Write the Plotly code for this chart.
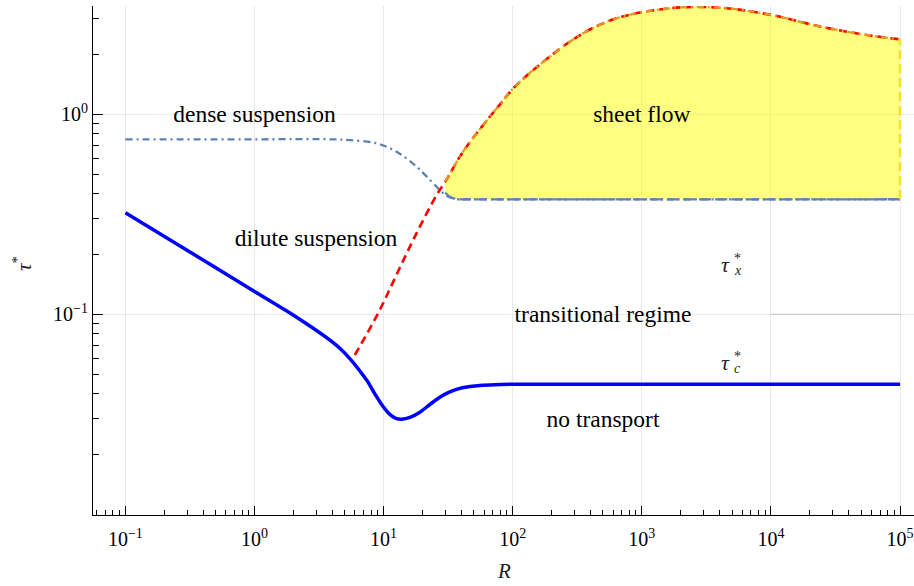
import numpy as np
import plotly.graph_objects as go

# ---- data ----
# critical Shields curve tau_c*
tc_R = [0.1, 0.316, 1.0, 2.24, 4.58, 7.38, 8.55, 9.93, 11.17, 12.43, 13.8, 15.96, 19.08, 22.8,
        27.26, 32.58, 38.95, 46.55, 55.64, 72.7, 113.6, 1e5]
tc_tau = [0.322, 0.205, 0.130, 0.0944, 0.0676, 0.0469, 0.0400, 0.0345, 0.0316, 0.0302, 0.0299,
          0.0305, 0.0324, 0.0354, 0.0385, 0.0409, 0.0426, 0.0435, 0.0441, 0.0445, 0.0447, 0.0447]

# dense suspension limit
dense_R = [0.1, 1.0, 3.85, 5.5, 8.83, 12.6, 18.0, 22.9, 27.3, 30.8, 36.8, 50.0, 1e5]
dense_tau = [0.75, 0.75, 0.75, 0.742, 0.716, 0.650, 0.547, 0.469, 0.418, 0.390, 0.377, 0.376, 0.376]

# suspension / sheet-flow upper curve (red dashed)
red_R = [5.98, 9.12, 12.6, 17.8, 25.7, 30.0, 41.4, 63.1, 79.8, 101.0, 178.0, 339.0, 603.0,
         1000.0, 2100.0, 4560.0, 1e4, 24000.0, 55500.0, 1e5]
red_tau = [0.0626, 0.102, 0.158, 0.251, 0.394, 0.460, 0.653, 0.933, 1.122, 1.349, 1.862, 2.51,
           2.985, 3.236, 3.43, 3.39, 3.14, 2.75, 2.49, 2.37]

# lower boundary of the sheet-flow region
sheet_low_R = [30.0, 33.0, 37.0, 45.0, 1e5]
sheet_low_tau = [0.405, 0.385, 0.377, 0.376, 0.376]
sheet_start_R = 30.0

# darker grid segment
seg_R = [1e4, 1e5]
seg_tau = [0.1, 0.1]

# region labels
labels = ["dense suspension", "dilute suspension", "sheet flow", "transitional regime", "no transport"]
label_R = [1.0, 3.0, 1000.0, 500.0, 500.0]
label_tau = [0.98, 0.236, 0.98, 0.098, 0.0292]

# tau labels
tau_label_sub = ["x", "c"]
tau_label_R = [5000.0, 5000.0]
tau_label_tau = [0.178, 0.0575]

# ticks
x_major = [1e-1, 1e0, 1e1, 1e2, 1e3, 1e4, 1e5]
x_major_text = ["10<sup>\u22121</sup>", "10<sup>0</sup>", "10<sup>1</sup>", "10<sup>2</sup>",
                "10<sup>3</sup>", "10<sup>4</sup>", "10<sup>5</sup>"]
y_major = [1e-1, 1e0]
y_major_text = ["10<sup>\u22121</sup>", "10<sup>0</sup>"]

x_minor = [m * 10.0 ** e for e in range(-2, 6) for m in range(2, 10)]
y_minor = [m * 10.0 ** e for e in range(-3, 1) for m in range(2, 10)]

X_RANGE = [-1.251, 5.108]
Y_RANGE = [-2.0035, 0.5415]

SERIF = "'Liberation Serif', 'Times New Roman', Times, 'DejaVu Serif', serif"
C1 = "#5e81b5"
C2 = "#e19c24"

red_R_a = np.array(red_R)
red_tau_a = np.array(red_tau)
mask = red_R_a >= sheet_start_R
up_R = red_R_a[mask]
up_tau = red_tau_a[mask]

fig = go.Figure()

fig.add_trace(go.Scatter(x=seg_R, y=seg_tau, mode="lines",
                         line=dict(color="#c4c4c4", width=1), hoverinfo="skip"))

# sheet flow fill: lower boundary, then upper boundary filled to it
fig.add_trace(go.Scatter(x=sheet_low_R, y=sheet_low_tau, mode="lines",
                         line=dict(width=0, shape="spline"), hoverinfo="skip"))
fig.add_trace(go.Scatter(x=up_R, y=up_tau, mode="lines", fill="tonexty",
                         fillcolor="rgba(255,255,0,0.5)",
                         line=dict(width=0, shape="spline"), hoverinfo="skip"))

fig.add_trace(go.Scatter(x=tc_R, y=tc_tau, mode="lines",
                         line=dict(color="#0000ff", width=3.5, shape="spline"), hoverinfo="skip"))

fig.add_trace(go.Scatter(x=dense_R, y=dense_tau, mode="lines",
                         line=dict(color=C1, width=2.3, shape="spline", dash="7px,4px,2px,4px"),
                         hoverinfo="skip"))

fig.add_trace(go.Scatter(x=sheet_low_R, y=sheet_low_tau, mode="lines",
                         line=dict(color=C1, width=2.3, shape="spline", dash="12px,4px"),
                         hoverinfo="skip"))

fig.add_trace(go.Scatter(x=red_R, y=red_tau, mode="lines",
                         line=dict(color="#ff0000", width=2.6, shape="spline", dash="8px,5px"),
                         hoverinfo="skip"))

fig.add_trace(go.Scatter(x=up_R, y=up_tau, mode="lines",
                         line=dict(color=C2, width=2.3, shape="spline", dash="7px,4px,2px,4px"),
                         hoverinfo="skip"))

fig.add_trace(go.Scatter(x=[sheet_low_R[-1], up_R[-1]], y=[sheet_low_tau[-1], up_tau[-1]],
                         mode="lines", line=dict(color="#f2e22a", width=2.6, dash="9px,5px"),
                         hoverinfo="skip"))

fig.add_trace(go.Scatter(x=label_R, y=label_tau, mode="text", text=labels,
                         textposition="middle center",
                         textfont=dict(family=SERIF, size=23.5, color="black"), hoverinfo="skip"))

annotations = []
for sub, r, t in zip(tau_label_sub, tau_label_R, tau_label_tau):
    lx, ly = np.log10(r), np.log10(t)
    annotations.append(dict(x=lx, y=ly, xref="x", yref="y", text="<i>\u03c4</i>",
                            showarrow=False, xanchor="right", yanchor="middle",
                            font=dict(family=SERIF, size=22, color="#222")))
    annotations.append(dict(x=lx, y=ly, xref="x", yref="y", text="*",
                            showarrow=False, xanchor="left", yanchor="middle", yshift=6,
                            font=dict(family=SERIF, size=14, color="#222")))
    annotations.append(dict(x=lx, y=ly, xref="x", yref="y", text="<i>" + sub + "</i>",
                            showarrow=False, xanchor="left", yanchor="middle", yshift=-6,
                            font=dict(family=SERIF, size=14, color="#222")))

# axis titles
annotations.append(dict(x=0.5, y=-0.11, xref="paper", yref="paper", text="<i>R</i>",
                        showarrow=False, xanchor="center", yanchor="middle",
                        font=dict(family=SERIF, size=21, color="#222")))
annotations.append(dict(x=-0.0865, y=0.495, xref="paper", yref="paper",
                        text="<i>\u03c4</i><sup>*</sup>", textangle=-90,
                        showarrow=False, xanchor="center", yanchor="middle",
                        font=dict(family=SERIF, size=21, color="#222")))

grid = "#e9e9e9"
tickfont = dict(family=SERIF, size=20, color="black")

fig.update_layout(
    width=914, height=586,
    margin=dict(l=93, r=0, t=6, b=71),
    paper_bgcolor="white", plot_bgcolor="white",
    showlegend=False, hovermode=False,
    annotations=annotations,
    xaxis=dict(type="log", range=X_RANGE, tickmode="array", tickvals=x_major, ticktext=x_major_text,
               ticks="inside", ticklen=9, tickwidth=1, tickcolor="black",
               showline=True, linecolor="black", linewidth=1,
               showgrid=True, gridcolor=grid, gridwidth=1, zeroline=False,
               tickfont=tickfont, ticklabelstandoff=6,
               minor=dict(tickmode="array", tickvals=x_minor, ticks="inside", ticklen=5,
                          tickcolor="black", showgrid=False)),
    yaxis=dict(type="log", range=Y_RANGE, tickmode="array", tickvals=y_major, ticktext=y_major_text,
               ticks="inside", ticklen=10, tickwidth=1, tickcolor="black",
               showline=True, linecolor="black", linewidth=1,
               showgrid=True, gridcolor=grid, gridwidth=1, zeroline=False,
               tickfont=tickfont,
               minor=dict(tickmode="array", tickvals=y_minor, ticks="inside", ticklen=5.5,
                          tickcolor="black", showgrid=False)),
    xaxis2=dict(type="log", range=X_RANGE, overlaying="x", side="top", anchor="y",
                tickmode="array", tickvals=x_major, showticklabels=False,
                ticks="inside", ticklen=10, tickcolor="black",
                showline=True, linecolor="black", linewidth=1, showgrid=False, zeroline=False,
                minor=dict(tickmode="array", tickvals=x_minor, ticks="inside", ticklen=5.5,
                           tickcolor="black", showgrid=False)),
    yaxis2=dict(type="log", range=Y_RANGE, overlaying="y", side="right", anchor="x",
                tickmode="array", tickvals=y_major, showticklabels=False,
                ticks="inside", ticklen=7, tickcolor="black",
                showline=False, showgrid=False, zeroline=False,
                minor=dict(tickmode="array", tickvals=y_minor, ticks="inside", ticklen=4,
                           tickcolor="black", showgrid=False)),
)

fig.write_html("out.html", config={"displayModeBar": False})
